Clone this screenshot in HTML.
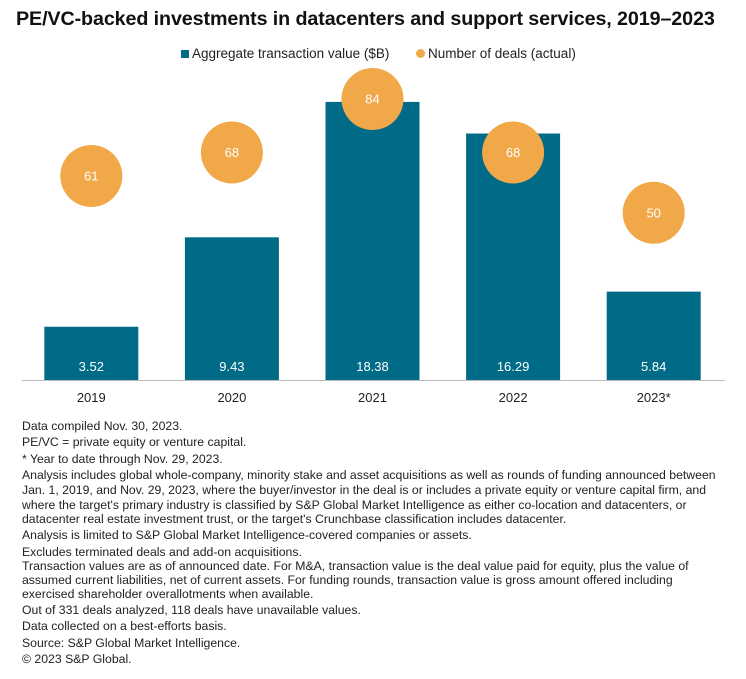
<!DOCTYPE html>
<html><head><meta charset="utf-8"><style>
body{margin:0;width:746px;height:679px;background:#fff;font-family:"Liberation Sans",sans-serif;overflow:hidden;position:relative}
.t{position:absolute;white-space:nowrap}
.n{position:absolute;left:22px;font-size:12.2px;color:#222;white-space:nowrap;line-height:13px;transform:scaleX(1.005);transform-origin:left}
</style></head><body>
<div class="t" style="left:16px;top:8px;font-size:19.7px;font-weight:bold;color:#111;letter-spacing:-0.1px">PE/VC-backed investments in datacenters and support services, 2019–2023</div>
<div class="t" style="left:181px;top:46px;font-size:13.5px;color:#222"><span style="display:inline-block;width:8px;height:8px;background:#006b87;margin-right:3px"></span>Aggregate transaction value ($B)</div>
<div class="t" style="left:416px;top:46px;font-size:13.5px;color:#222"><span style="display:inline-block;width:9px;height:9px;border-radius:50%;background:#f0a848;margin-right:3px"></span>Number of deals (actual)</div>
<svg id="chart" width="746" height="420" style="position:absolute;left:0;top:0"></svg>
<div>
<div class="n" style="top:420px">Data compiled Nov. 30, 2023.</div>
<div class="n" style="top:436px">PE/VC = private equity or venture capital.</div>
<div class="n" style="top:453px">* Year to date through Nov. 29, 2023.</div>
<div class="n" style="top:469px">Analysis includes global whole-company, minority stake and asset acquisitions as well as rounds of funding announced between</div>
<div class="n" style="top:484px">Jan. 1, 2019, and Nov. 29, 2023, where the buyer/investor in the deal is or includes a private equity or venture capital firm, and</div>
<div class="n" style="top:499px">where the target's primary industry is classified by S&amp;P Global Market Intelligence as either co-location and datacenters, or</div>
<div class="n" style="top:513px">datacenter real estate investment trust, or the target's Crunchbase classification includes datacenter.</div>
<div class="n" style="top:529px">Analysis is limited to S&amp;P Global Market Intelligence-covered companies or assets.</div>
<div class="n" style="top:546px">Excludes terminated deals and add-on acquisitions.</div>
<div class="n" style="top:560px">Transaction values are as of announced date. For M&amp;A, transaction value is the deal value paid for equity, plus the value of</div>
<div class="n" style="top:574px">assumed current liabilities, net of current assets. For funding rounds, transaction value is gross amount offered including</div>
<div class="n" style="top:588px">exercised shareholder overallotments when available.</div>
<div class="n" style="top:604px">Out of 331 deals analyzed, 118 deals have unavailable values.</div>
<div class="n" style="top:620px">Data collected on a best-efforts basis.</div>
<div class="n" style="top:637px">Source: S&amp;P Global Market Intelligence.</div>
<div class="n" style="top:653px">© 2023 S&amp;P Global.</div>
</div>
<script>
const categories=["2019","2020","2021","2022","2023*"];
const values=[3.52,9.43,18.38,16.29,5.84];
const deals=[61,68,84,68,50];
const valueLabels=["3.52","9.43","18.38","16.29","5.84"];
const svg=document.getElementById('chart');
const NS='http://www.w3.org/2000/svg';
const base=380, x0=21, step=140.6, bw=94;
const yV=v=>base-v*15.13;
const yD=v=>base-v*3.345;
const xC=i=>x0+step*i+step/2;
function mk(t,a){const e=document.createElementNS(NS,t);for(const k in a)e.setAttribute(k,a[k]);svg.appendChild(e);return e;}
categories.forEach((c,i)=>{
 const r=mk('rect',{x:xC(i)-bw/2,y:yV(values[i]),width:bw,height:base-yV(values[i]),fill:'#006b87'});
 
 
 const l=mk('text',{x:xC(i),y:base-9,'text-anchor':'middle','font-size':13,fill:'#fff'});l.textContent=valueLabels[i];
 
 
 const xl=mk('text',{x:xC(i),y:base+22,'text-anchor':'middle','font-size':13,fill:'#222'});xl.textContent=c;
 
 
});
mk('line',{x1:22,x2:725,y1:base+0.5,y2:base+0.5,stroke:'#bbb','stroke-width':1});
categories.forEach((c,i)=>{
 const ci=mk('circle',{cx:xC(i),cy:yD(deals[i]),r:31,fill:'#f0a848'});
 
 
 const t=mk('text',{x:xC(i),y:yD(deals[i])+4.5,'text-anchor':'middle','font-size':13,fill:'#fff'});t.textContent=deals[i];
 
 
});
</script>
</body></html>
